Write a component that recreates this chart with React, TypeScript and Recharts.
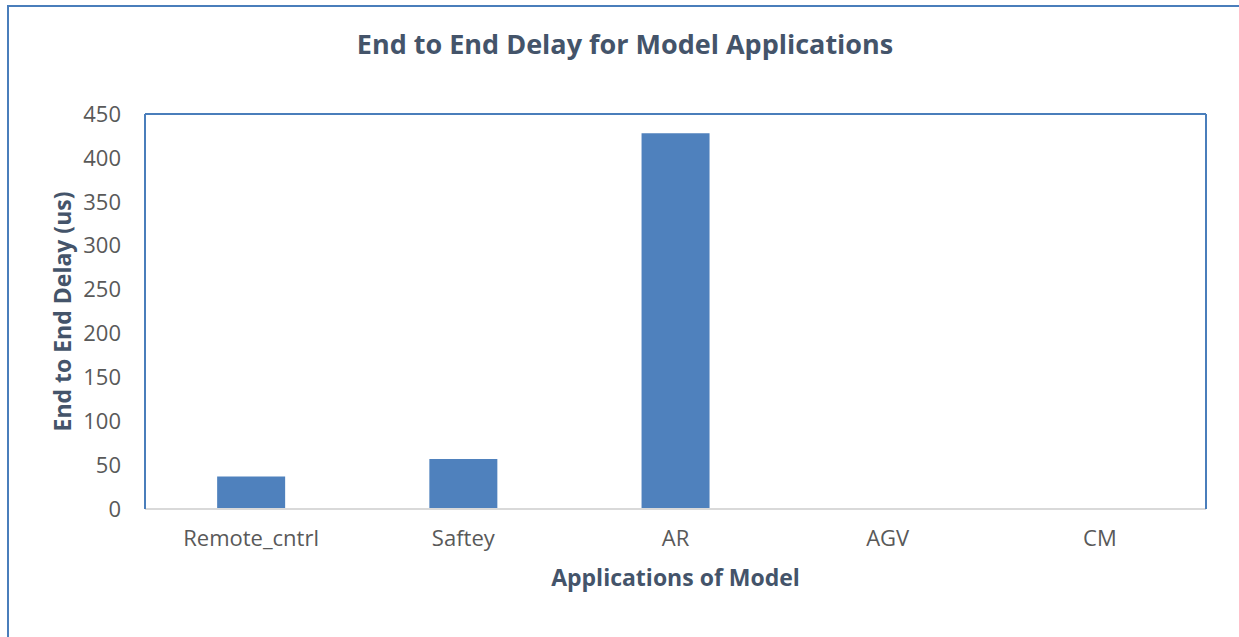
import React from 'react';
import { BarChart, Bar, XAxis, YAxis, CartesianGrid, ReferenceLine, Label } from 'recharts';

// values
const applications = ['Remote_cntrl', 'Saftey', 'AR', 'AGV', 'CM'];
const delays = [37, 57, 428, 0, 0];
const yTicks = [0, 50, 100, 150, 200, 250, 300, 350, 400, 450];

const data = applications.map((name, i) => ({ name, delay: delays[i] }));

const FONT = '"Open Sans", sans-serif';
const BLUE = '#4a7ebb';
const TITLE_COLOR = '#44546a';
const TICK_COLOR = '#595959';

export default function App() {
    return (
        <div style={{ position: 'absolute', left: 0, top: 0, width: 1239, height: 637, background: '#fff', fontFamily: FONT }}>
            {/* outer chart frame, only top and left edges are visible */}
            <div style={{ position: 'absolute', left: 7, top: 5, right: 0, bottom: 0, borderTop: `2px solid ${BLUE}`, borderLeft: `2px solid ${BLUE}` }} />
            <div style={{ position: 'absolute', left: 0, width: 1250, top: 25, textAlign: 'center', fontSize: 27, fontWeight: 'bold', color: TITLE_COLOR }}>
                End to End Delay for Model Applications
            </div>
            <div style={{ position: 'absolute', left: 0, top: 0 }}>
                <BarChart
                    width={1239}
                    height={637}
                    data={data}
                    margin={{ top: 114, right: 0, left: 0, bottom: 0 }}
                    barCategoryGap="34%"
                >
                    <CartesianGrid horizontal={true} vertical={false} stroke="#d9d9d9" strokeWidth={1.5} />
                    <XAxis
                        dataKey="name"
                        height={128}
                        axisLine={{ stroke: '#d9d9d9', strokeWidth: 2 }}
                        tickLine={false}
                        tickMargin={15}
                        tick={{ fill: TICK_COLOR, fontSize: 22, fontFamily: FONT }}
                    >
                        <Label value="Applications of Model" position="center" dy={5}
                            style={{ fill: TITLE_COLOR, fontSize: 23, fontWeight: 'bold', fontFamily: FONT }} />
                    </XAxis>
                    <YAxis
                        yAxisId="left"
                        width={145}
                        domain={[0, 450]}
                        ticks={yTicks}
                        interval={0}
                        axisLine={{ stroke: BLUE, strokeWidth: 2 }}
                        tickLine={false}
                        tickMargin={18}
                        tick={{ fill: TICK_COLOR, fontSize: 22, fontFamily: FONT }}
                    >
                        <Label value="End to End Delay (us)" position="center" angle={-90} dx={-10}
                            style={{ fill: TITLE_COLOR, fontSize: 23, fontWeight: 'bold', fontFamily: FONT, textAnchor: 'middle' }} />
                    </YAxis>
                    <YAxis
                        yAxisId="right"
                        orientation="right"
                        width={33}
                        domain={[0, 450]}
                        tick={false}
                        tickLine={false}
                        axisLine={{ stroke: BLUE, strokeWidth: 2 }}
                    />
                    <ReferenceLine yAxisId="left" y={450} stroke={BLUE} strokeWidth={2} />
                    <Bar yAxisId="left" dataKey="delay" fill="#4f81bd" isAnimationActive={false} />
                </BarChart>
            </div>
        </div>
    );
}
